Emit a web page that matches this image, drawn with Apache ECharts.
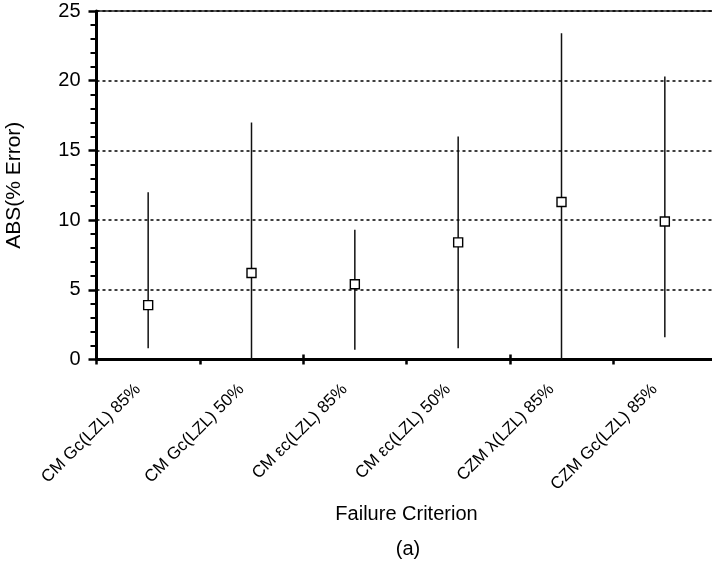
<!DOCTYPE html>
<html>
<head>
<meta charset="utf-8">
<script src="https://cdn.jsdelivr.net/npm/echarts@6/dist/echarts.min.js"></script>
<style>
html,body{margin:0;padding:0;background:#fff;}
#chart{width:712px;height:563px;}
</style>
</head>
<body>
<div id="chart"></div>
<script>
const categories = ['CM Gc(LZL) 85%', 'CM Gc(LZL) 50%', 'CM \u03B5c(LZL) 85%', 'CM \u03B5c(LZL) 50%', 'CZM \u03BB(LZL) 85%', 'CZM Gc(LZL) 85%'];
const meanValues = [3.9, 6.2, 5.4, 8.4, 11.3, 9.9];
const lowValues  = [0.8, 0.0, 0.7, 0.8, 0.0, 1.6];
const highValues = [12.0, 17.0, 9.3, 16.0, 23.4, 20.3];

const FONT = '"Liberation Sans", Arial, Helvetica, sans-serif';
const errData = categories.map((c, i) => [i, lowValues[i], highValues[i]]);

const chart = echarts.init(document.getElementById('chart'), null, {renderer: 'canvas'});
chart.setOption({
  animation: false,
  backgroundColor: '#fff',
  grid: {left: 96.5, top: 11, width: 620, height: 348.5, containLabel: false, outerBoundsMode: 'none',
    show: true, borderColor: '#222', borderWidth: 1.5, backgroundColor: 'transparent'},
  xAxis: [{
    type: 'category', data: categories, boundaryGap: true, position: 'bottom',
    axisLine: {show: true, lineStyle: {color: '#000', width: 3}},
    axisTick: {show: true, length: 5, lineStyle: {color: '#000', width: 2.5}},
    axisLabel: {rotate: 45, interval: 0, margin: 17, padding: [0, 14.4, 0, 0], fontSize: 17, color: '#000', fontFamily: FONT},
    splitLine: {show: false},
    name: 'Failure Criterion', nameLocation: 'middle', nameGap: 145,
    nameTextStyle: {fontSize: 20, color: '#000', fontFamily: FONT}
  }, {
    type: 'category', data: categories, boundaryGap: true, position: 'bottom',
    axisLine: {show: false},
    axisTick: {show: true, inside: true, length: 5, lineStyle: {color: '#000', width: 2.5}},
    axisLabel: {show: false},
    splitLine: {show: false}
  }],
  yAxis: {
    type: 'value', min: 0, max: 25, interval: 5,
    axisLine: {show: true, lineStyle: {color: '#000', width: 3}},
    axisTick: {show: true, length: 8, lineStyle: {color: '#000', width: 2.5}},
    minorTick: {show: true, splitNumber: 5, length: 6, lineStyle: {color: '#000', width: 2}},
    axisLabel: {fontSize: 20, margin: 16, color: '#000', fontFamily: FONT},
    splitLine: {show: true, lineStyle: {type: [3, 3], color: '#000', width: 1.5}},
    name: 'ABS(% Error)', nameLocation: 'middle', nameGap: 72,
    nameTextStyle: {fontSize: 21, color: '#000', fontFamily: FONT}
  },
  graphic: [{
    type: 'text', x: 408, y: 549, silent: true,
    style: {text: '(a)', fontSize: 20, fill: '#000', fontFamily: FONT, align: 'center', verticalAlign: 'middle'}
  }],
  series: [{
    type: 'custom',
    data: errData,
    z: 2,
    renderItem: function (params, api) {
      const i = api.value(0);
      const p1 = api.coord([i, api.value(1)]);
      const p2 = api.coord([i, api.value(2)]);
      return {type: 'line', shape: {x1: p1[0], y1: p1[1], x2: p2[0], y2: p2[1]},
        style: {stroke: '#111', lineWidth: 1.5}};
    }
  }, {
    type: 'scatter',
    data: meanValues,
    z: 3,
    symbol: 'rect', symbolSize: 9,
    itemStyle: {color: '#fff', borderColor: '#000', borderWidth: 1.4, opacity: 1}
  }]
});
</script>
</body>
</html>
